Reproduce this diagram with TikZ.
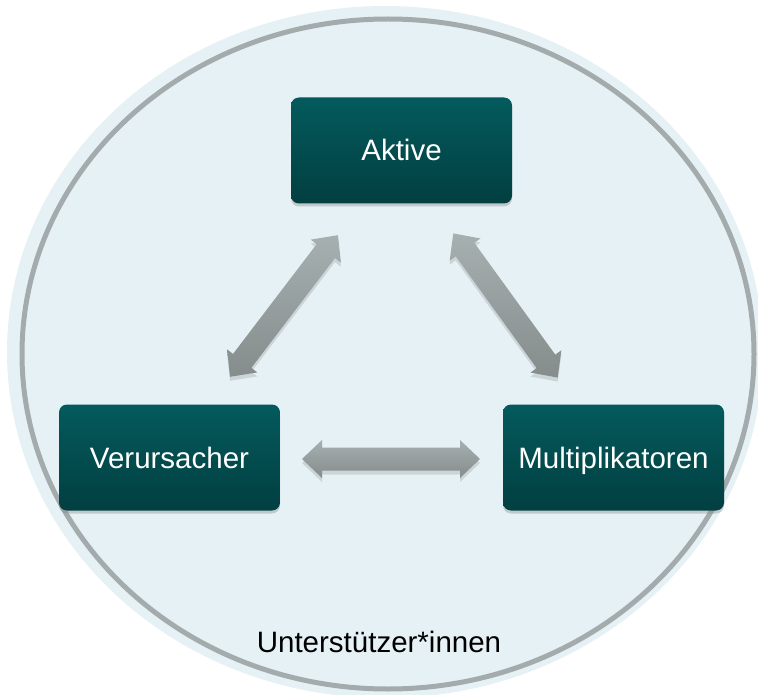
\documentclass[tikz,border=0pt]{standalone}
\usepackage{fontspec}
\setmainfont{Liberation Sans}
\usetikzlibrary{shadows}
\definecolor{bgblue}{HTML}{E6F1F6}
\definecolor{ringgray}{HTML}{A4ABAD}
\definecolor{boxtop}{HTML}{035A5C}
\definecolor{boxbot}{HTML}{023F41}
\definecolor{arrtop}{HTML}{A7B0B0}
\definecolor{arrbot}{HTML}{848C8C}
\tikzset{
  x=1pt, y=1pt,
  actor/.style={rounded corners=8pt, minimum width=221pt, minimum height=106pt,
    top color=boxtop, bottom color=boxbot, draw=none, text=white,
    font=\fontsize{29.5}{33}\selectfont, text height=21pt, text depth=0pt,
    drop shadow={opacity=0.35, shadow xshift=0pt, shadow yshift=-3pt}},
  arrowbody/.style={top color=arrtop, bottom color=arrbot, draw=none,
    drop shadow={opacity=0.25, shadow xshift=0pt, shadow yshift=-4pt}},
  pics/dblarrow/.style={code={
    \path[arrowbody] (-89,0) -- (-69,19) -- (-69,11.5) -- (69,11.5) -- (69,19)
      -- (89,0) -- (69,-19) -- (69,-11.5) -- (-69,-11.5) -- (-69,-19) -- cycle;
  }}
}
\begin{document}
\begin{tikzpicture}
\useasboundingbox (0,0) rectangle (758,-695);
\clip (0,0) rectangle (758,-695);
\fill[bgblue] (385,-352) ellipse [x radius=378, y radius=346];
\draw[ringgray, line width=5pt, fill=bgblue] (388,-354) ellipse [x radius=366, y radius=335];

\node[actor] (aktive) at (401.5,-150.5) {Aktive};
\node[actor] (verur) at (169.5,-457.5) {Verursacher};
\node[actor] (multi) at (613.5,-457.5) {Multiplikatoren};

\pic[rotate=52.7] (av) at (284,-306) {dblarrow};
\pic[rotate=-54.1] (am) at (505.5,-305.5) {dblarrow};
\pic (vm) at (391,-459) {dblarrow};

\node[anchor=base, font=\fontsize{29.5}{33}\selectfont] (unter) at (379,-652) {Unterstützer*innen};
\end{tikzpicture}
\end{document}
